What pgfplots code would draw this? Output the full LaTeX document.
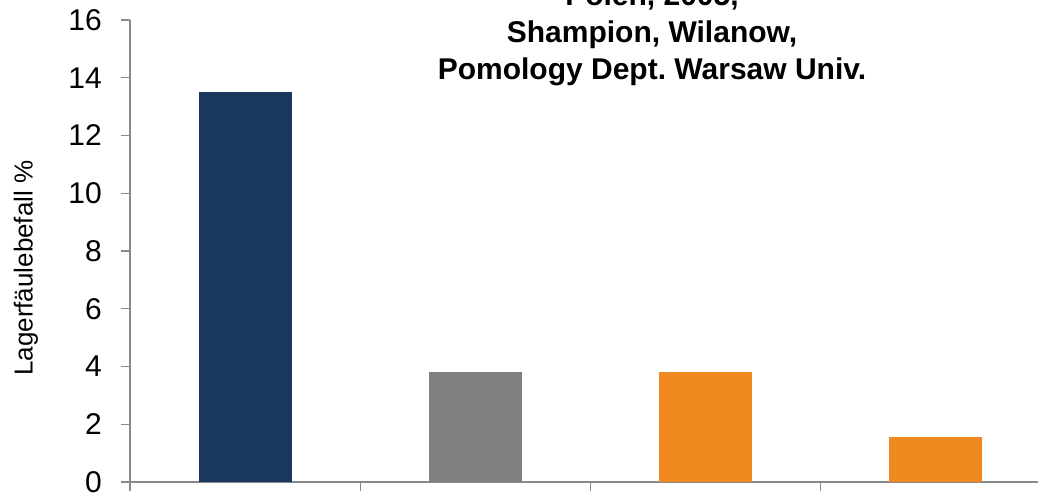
\documentclass[border=0pt]{standalone}
\usepackage{pgfplots}
\pgfplotsset{compat=1.18}
\usepackage{fontspec}
\setmainfont{Liberation Sans}
\frenchspacing
\definecolor{barnavy}{RGB}{25,56,93}
\definecolor{bargrey}{RGB}{128,128,128}
\definecolor{barorange}{RGB}{240,137,31}
\definecolor{axisgrey}{RGB}{137,137,137}
\begin{document}
\begin{tikzpicture}
\begin{axis}[
    at={(0pt,0pt)}, anchor=south west,
    scale only axis,
    width=921pt, height=462pt,
    xmin=-0.5, xmax=3.5,
    ymin=0, ymax=16,
    ytick={0,2,4,6,8,10,12,14,16},
    xtick={-0.5,0.5,1.5,2.5,3.5},
    xticklabels={},
    axis x line*=bottom,
    axis y line*=left,
    x axis line style={axisgrey, line width=2pt},
    y axis line style={axisgrey, line width=1.3pt},
    tick align=outside,
    major tick length=9pt,
    tick style={axisgrey, line width=1.3pt},
    /pgf/number format/assume math mode=true,
    yticklabel style={font=\fontsize{30}{36}\selectfont, inner sep=0pt, xshift=-19pt},
    ylabel={Lagerfäulebefall \%},
    ylabel style={at={(axis description cs:-0.113,0.463)}, anchor=center,
        font=\fontsize{26}{30}\selectfont},
    clip=false,
]
\addplot[ybar, bar width=93pt, bar shift=0pt, fill=barnavy, draw=none] coordinates {(0,13.5)};
\addplot[ybar, bar width=93pt, bar shift=0pt, fill=bargrey, draw=none] coordinates {(1,3.8)};
\addplot[ybar, bar width=93pt, bar shift=0pt, fill=barorange, draw=none] coordinates {(2,3.8)};
\addplot[ybar, bar width=93pt, bar shift=0pt, fill=barorange, draw=none] coordinates {(3,1.55)};
\end{axis}
% title, first line is cut off by the top edge as in the original
\begin{scope}[every node/.style={anchor=base, inner sep=0pt, font=\bfseries\fontsize{30}{36}\selectfont}]
\node at (522pt,476pt) {Polen, 2005,};
\node at (522pt,439pt) {Shampion, Wilanow,};
\node at (522pt,402pt) {Pomology Dept. Warsaw Univ.};
\end{scope}
\pgfresetboundingbox
\useasboundingbox (-130pt,-13pt) rectangle (908pt,482pt);
\end{tikzpicture}
\end{document}
